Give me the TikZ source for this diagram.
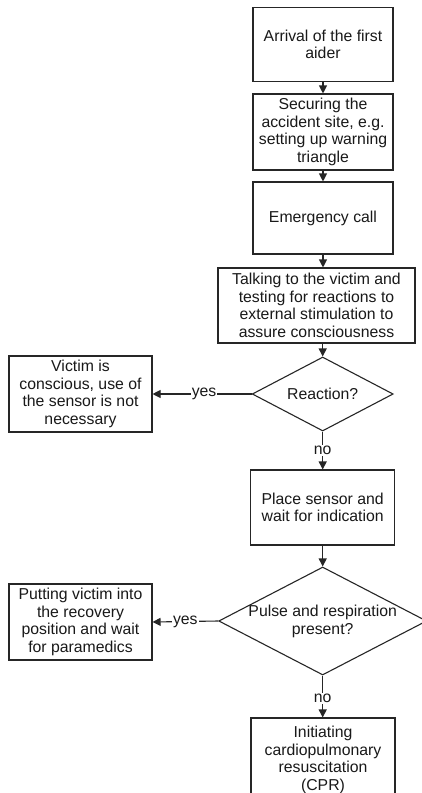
\documentclass[tikz,border=0pt]{standalone}
\usepackage{fontspec}
\setmainfont{Liberation Sans}
\usetikzlibrary{shapes.geometric,arrows.meta}
\tikzset{
  ln/.style={line width=1.1pt, draw=black!85},
  txt/.style={font=\fontsize{15.8}{17.5}\selectfont, align=center, text=black!90},
  boxn/.style={ln, txt, rectangle, inner sep=0pt},
  dia/.style={ln, diamond, inner sep=0pt},
  arr/.style={ln, -{Triangle[width=8pt,length=8pt]}},
  lab/.style={txt, fill=white, inner sep=1pt}
}
\begin{document}
\begin{tikzpicture}[x=1pt,y=-1pt]
\useasboundingbox (0,0) rectangle (422,793);
\clip (0,0) rectangle (422,793);
\fill[white] (0,0) rectangle (422,793);
% boxes
\node[boxn, minimum width=140pt, minimum height=74.5pt] (b1) at (323,44.3) {Arrival of the first\\aider};
\node[boxn, minimum width=140pt, minimum height=76pt] (b2) at (323,132) {Securing the\\accident site, e.g.\\setting up warning\\triangle};
\node[boxn, minimum width=140pt, minimum height=72pt] (b3) at (323,218) {Emergency call};
\node[boxn, minimum width=197pt, minimum height=75pt] (b4) at (316.5,305.5) {Talking to the victim and\\testing for reactions to\\external stimulation to\\assure consciousness};
\node[dia, minimum width=141pt, minimum height=74pt, label={[txt]center:Reaction?}] (d1) at (322.7,394) {};
\node[boxn, minimum width=143pt, minimum height=76pt] (v1) at (80.5,394) {Victim is\\conscious, use of\\the sensor is not\\necessary};
\node[boxn, minimum width=144pt, minimum height=75pt] (b5) at (322.7,507.5) {Place sensor and\\wait for indication};
\node[dia, minimum width=208pt, minimum height=108pt] (d2) at (322.7,621) {};
\node[txt] (d2t) at (322.7,621.5) {Pulse and respiration\\present?};
\node[boxn, minimum width=143pt, minimum height=76pt] (v2) at (80.5,622) {Putting victim into\\the recovery\\position and wait\\for paramedics};
\node[boxn, minimum width=144pt, minimum height=84pt] (b6) at (323,760) {Initiating\\cardiopulmonary\\resuscitation\\(CPR)};
% connectors
\draw[arr] (b1.south) -- (b2.north);
\draw[arr] (b2.south) -- (b3.north);
\draw[arr] (b3.south) -- (b3.south |- b4.north);
\draw[arr] (d1 |- b4.south) -- (d1.north);
\draw[arr] (d1.west) -- node[lab, pos=0.48] (y1) {yes} (v1.east);
\draw[arr] (d1.south) -- node[lab, pos=0.5] (n1) {no} (b5.north);
\draw[arr] (b5.south) -- (d2.north);
\draw[arr] (d2.west) -- node[lab, pos=0.5] (y2) {yes} (v2.east);
\draw[arr] (d2.south) -- node[lab, pos=0.55] (n2) {no} (d2.south |- b6.north);
\end{tikzpicture}
\end{document}
